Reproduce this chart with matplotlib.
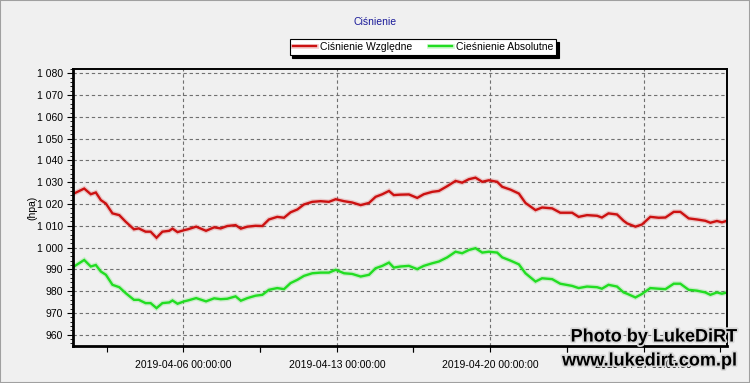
import numpy as np
import pandas as pd
import matplotlib
matplotlib.use("Agg")
import matplotlib.pyplot as plt
import matplotlib.dates as mdates
import matplotlib.patheffects as pe
from matplotlib.patches import Rectangle
from matplotlib.ticker import FixedLocator, FuncFormatter, MultipleLocator

# data: days since 2019-04-01 00:00, pressure in hPa
days = [0.0, 0.47, 0.77, 1.0, 1.23, 1.46, 1.76, 2.07, 2.36, 2.74, 2.96, 3.27, 3.5, 3.77,
        4.04, 4.35, 4.5, 4.73, 5.03, 5.2, 5.58, 6.03, 6.4, 6.7, 7.0, 7.38, 7.62, 7.92,
        8.29, 8.6, 8.9, 9.28, 9.59, 9.89, 10.2, 10.5, 10.88, 11.26, 11.64, 11.95, 12.33,
        12.7, 13.09, 13.47, 13.77, 14.08, 14.38, 14.6, 14.9, 15.29, 15.67, 15.97, 16.36,
        16.66, 17.04, 17.42, 17.72, 18.03, 18.33, 18.64, 18.94, 19.32, 19.55, 19.93,
        20.31, 20.61, 21.07, 21.37, 21.83, 22.2, 22.74, 23.04, 23.42, 23.88, 24.1, 24.4,
        24.79, 25.09, 25.25, 25.63, 25.93, 26.31, 26.69, 27.0, 27.38, 27.68, 28.06,
        28.44, 28.82, 29.05, 29.35, 29.58, 29.81]

wzgledne = [1024.8, 1027.1, 1024.5, 1025.3, 1021.8, 1020.2, 1015.7, 1014.9, 1011.9, 1008.4,
            1008.8, 1007.3, 1007.3, 1004.5, 1007.3, 1007.7, 1008.7, 1007.1, 1008.0, 1008.4,
            1009.6, 1007.7, 1009.3, 1008.8, 1009.9, 1010.3, 1008.7, 1009.6, 1010.0, 1009.9,
            1012.9, 1014.1, 1013.7, 1016.2, 1017.5, 1019.8, 1021.0, 1021.3, 1021.0, 1022.2,
            1021.3, 1020.7, 1019.5, 1020.5, 1023.3, 1024.5, 1026.0, 1024.1, 1024.3, 1024.4,
            1022.8, 1024.5, 1025.6, 1026.0, 1028.2, 1030.6, 1029.8, 1031.4, 1032.1, 1030.2,
            1030.9, 1030.2, 1027.9, 1026.6, 1024.8, 1020.5, 1017.2, 1018.4, 1018.0, 1016.0,
            1016.0, 1014.1, 1014.9, 1014.6, 1013.8, 1015.7, 1015.2, 1012.3, 1011.1, 1009.6,
            1010.6, 1014.1, 1013.7, 1013.8, 1016.4, 1016.4, 1013.4, 1012.9, 1012.3, 1011.4,
            1012.2, 1011.6, 1012.3]

absolutne = [991.3, 994.3, 991.3, 992.0, 989.0, 987.5, 982.9, 981.8, 979.1, 976.0,
             976.0, 974.5, 974.5, 972.2, 974.5, 974.8, 975.7, 974.2, 975.3, 975.7,
             976.8, 975.3, 976.7, 976.3, 976.5, 977.6, 975.6, 976.8, 977.9, 978.3,
             980.6, 981.4, 980.9, 983.7, 985.2, 987.0, 988.2, 988.5, 988.5, 989.8,
             988.2, 987.9, 986.7, 987.5, 990.5, 991.6, 993.1, 990.8, 991.3, 991.6,
             990.1, 991.6, 992.8, 993.6, 995.5, 998.1, 997.4, 998.9, 999.7, 997.7,
             998.1, 997.7, 995.5, 994.0, 992.3, 988.2, 984.4, 985.9, 985.5, 983.4,
             982.4, 981.4, 982.1, 981.8, 981.1, 982.9, 982.1, 979.4, 978.8, 977.1,
             978.7, 981.4, 981.1, 980.9, 983.4, 983.4, 980.6, 980.2, 979.4, 978.3,
             979.4, 978.8, 979.4]

series_labels = ["Ciśnienie Względne", "Cieśnienie Absolutne"]
series_colors = ["#cc1111", "#22dd22"]
major_dates = ["2019-04-06", "2019-04-13", "2019-04-20", "2019-04-27"]
y_ticks = list(range(960, 1081, 10))

start = pd.Timestamp("2019-04-01")
times = start + pd.to_timedelta(days, unit="D")

BG = "#f0f0f0"
plt.rcParams["font.family"] = ["Liberation Sans", "DejaVu Sans"]

fig = plt.figure(figsize=(7.5, 3.83), dpi=100, facecolor=BG)
ax = fig.add_axes([73 / 750, 1 - 346 / 383, 654 / 750, 277 / 383], facecolor=BG)

for vals, lab, col in zip([wzgledne, absolutne], series_labels, series_colors):
    ax.plot(times, vals, color=col, lw=1.7, label=lab, solid_joinstyle="miter",
            path_effects=[pe.Stroke(linewidth=3.6, foreground=col, alpha=0.18), pe.Normal()])

ax.set_ylim(954.8, 1082)
ax.set_xlim(start - pd.Timedelta(hours=1), start + pd.Timedelta(days=29.81))

ax.yaxis.set_major_locator(FixedLocator(y_ticks))
ax.yaxis.set_minor_locator(MultipleLocator(2))
ax.yaxis.set_major_formatter(FuncFormatter(lambda v, p: f"{v:,.0f}".replace(",", " ")))

major = [mdates.date2num(pd.Timestamp(d)) for d in major_dates]
minor = [m + off for m in major for off in (-3.5, 3.5)]
ax.xaxis.set_major_locator(FixedLocator(major))
ax.xaxis.set_minor_locator(FixedLocator(minor))
ax.xaxis.set_major_formatter(mdates.DateFormatter("%Y-%m-%d %H:%M:%S"))

ax.tick_params(axis="both", which="major", labelsize=7.5, length=4, width=0.8, pad=3)
ax.tick_params(axis="y", which="minor", length=2, width=0.6)
ax.tick_params(axis="x", which="minor", length=4, width=0.8)
ax.tick_params(axis="x", which="major", pad=6)

ax.grid(True, which="major", color="#707070", linestyle=(0, (3, 2.5)), linewidth=0.8)
ax.set_axisbelow(True)

for side in ["left", "bottom"]:
    ax.spines[side].set_linewidth(2.0)
for side in ["top", "right"]:
    ax.spines[side].set_linewidth(1.4)

fig.text(32 / 750, 1 - 208 / 383, "(hpa)", rotation=90, ha="center", va="center", fontsize=7.5)
fig.text(0.5, 1 - 22 / 383, "Ciśnienie", ha="center", va="center", fontsize=7.5, color="#1a1a99")

leg = fig.legend(loc="center", bbox_to_anchor=(423 / 750, 1 - 47 / 383), ncol=2,
                 fontsize=7.5, frameon=True, fancybox=False, shadow={"color": "black", "alpha": 1.0},
                 edgecolor="black", facecolor="white", framealpha=1, borderpad=0.3,
                 handlelength=2.2, handletextpad=0.4, columnspacing=1.6)
leg.get_frame().set_linewidth(0.8)

# watermark sits on top of the last date label, as in the source image
outline = [pe.withStroke(linewidth=2.5, foreground="#d8d8d8")]
fig.text(737 / 750, 1 - 337 / 383, "Photo by LukeDiRT", ha="right", va="center",
         fontsize=13, fontweight="bold", color="black", path_effects=outline, zorder=10)
fig.text(737 / 750, 1 - 361 / 383, "www.lukedirt.com.pl", ha="right", va="center",
         fontsize=13, fontweight="bold", color="black", path_effects=outline, zorder=10)

fig.patches.append(Rectangle((0, 0), 1, 1, transform=fig.transFigure, fill=False,
                             edgecolor="#a0a0a0", linewidth=1.5))

fig.savefig("out.png", dpi=100, facecolor=BG)
